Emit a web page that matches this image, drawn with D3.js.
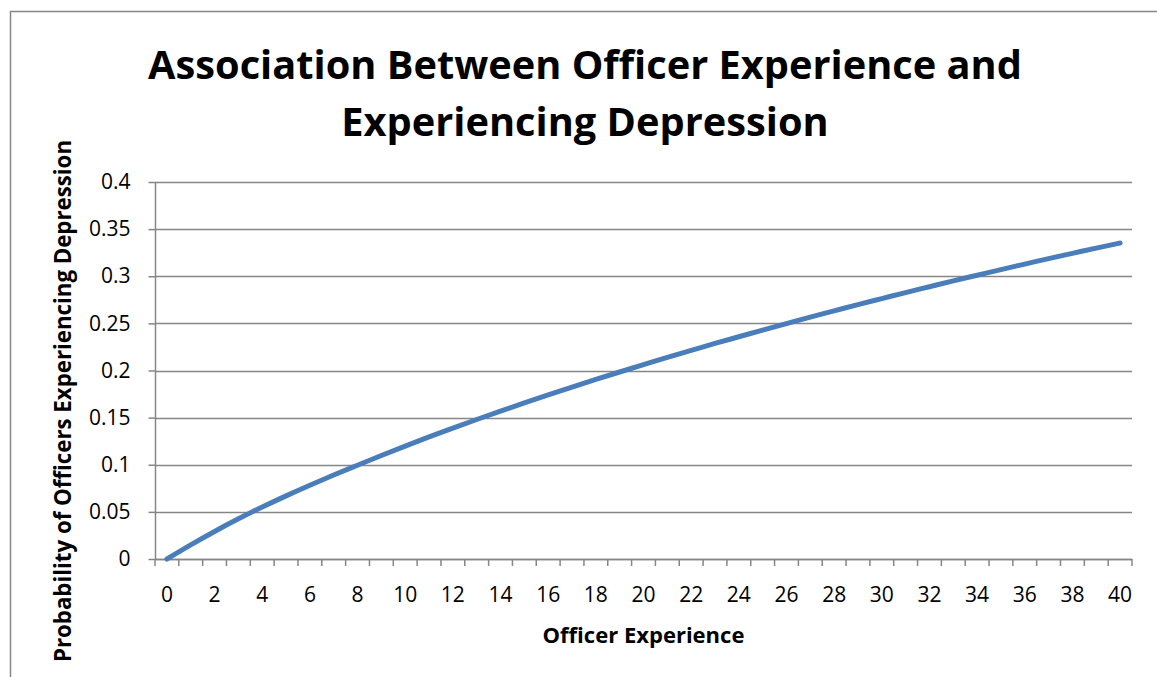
<!DOCTYPE html>
<html>
<head>
<meta charset="utf-8">
<script src="https://cdn.jsdelivr.net/npm/d3@7"></script>
<style>
  html, body { margin: 0; padding: 0; background: #fff; }
  svg { display: block; }
  text { font-family: "Open Sans", "Noto Sans", sans-serif; fill: #000; }
</style>
</head>
<body>
<svg id="chart" width="1157" height="677"></svg>
<script>
// ---- data ----
const titleLines = ["Association Between Officer Experience and", "Experiencing Depression"];
const xTitle = "Officer Experience";
const yTitle = "Probability of Officers Experiencing Depression";
const experience = d3.range(0, 41); // categories 0..40
const probability = [
  0.0000, 0.0150, 0.0292, 0.0426, 0.0551, 0.0670, 0.0783, 0.0891, 0.0995, 0.1098,
  0.1198, 0.1295, 0.1389, 0.1480, 0.1569, 0.1656, 0.1741, 0.1824, 0.1905, 0.1984,
  0.2062, 0.2139, 0.2213, 0.2287, 0.2358, 0.2429, 0.2498, 0.2567, 0.2633, 0.2699,
  0.2763, 0.2827, 0.2889, 0.2951, 0.3011, 0.3071, 0.3129, 0.3187, 0.3243, 0.3299,
  0.3353
];
const yTicks = [0, 0.05, 0.1, 0.15, 0.2, 0.25, 0.3, 0.35, 0.4];
const yTickLabels = ["0", "0.05", "0.1", "0.15", "0.2", "0.25", "0.3", "0.35", "0.4"];
const xTickLabels = ["0","2","4","6","8","10","12","14","16","18","20","22","24","26","28","30","32","34","36","38","40"];

// ---- layout ----
const svg = d3.select("#chart");
const plot = { left: 155, right: 1132, top: 182, bottom: 559 };
const gridColor = "#868686";
const lineColor = "#4a7ebb";

function fitWidth(sel, target) {
  const node = sel.node();
  const fs = parseFloat(sel.attr("font-size"));
  const w = node.getComputedTextLength();
  if (w > 0) sel.attr("font-size", (fs * target / w).toFixed(2));
}

// outer border (chart area, cropped on right/bottom)
svg.append("rect")
  .attr("x", 10.5).attr("y", 11.5)
  .attr("width", 1300).attr("height", 800)
  .attr("fill", "#fff")
  .attr("stroke", gridColor).attr("stroke-width", 1.5);

const x = d3.scaleBand().domain(experience).range([plot.left, plot.right]).padding(0);
const y = d3.scaleLinear().domain([0, 0.4]).range([plot.bottom, plot.top]);

// gridlines + y axis
const yAxis = d3.axisLeft(y)
  .tickValues(yTicks)
  .tickSize(7)
  .tickPadding(18)
  .tickFormat((d, i) => yTickLabels[i]);

const gy = svg.append("g").attr("transform", `translate(${plot.left},0)`);
gy.selectAll("line.grid")
  .data(yTicks)
  .join("line")
  .attr("class", "grid")
  .attr("x1", 0).attr("x2", plot.right - plot.left)
  .attr("y1", d => Math.round(y(d)) + 0.5).attr("y2", d => Math.round(y(d)) + 0.5)
  .attr("stroke", gridColor).attr("stroke-width", 1.5);
const yAx = svg.append("g").attr("transform", `translate(${plot.left + 0.5},0)`).call(yAxis);
yAx.select(".domain").attr("stroke", gridColor).attr("stroke-width", 1.5)
  .attr("d", `M0,${plot.top}V${plot.bottom}`);
yAx.selectAll(".tick line").attr("stroke", gridColor).attr("stroke-width", 1.5);
yAx.selectAll(".tick text")
  .attr("font-size", 21)
  .attr("font-family", "Open Sans")
  .attr("fill", "#000");

// x axis: line, boundary tick marks, labels at even categories
const gx = svg.append("g");
gx.append("line")
  .attr("x1", plot.left).attr("x2", plot.right)
  .attr("y1", y(0) + 0.5).attr("y2", y(0) + 0.5)
  .attr("stroke", gridColor).attr("stroke-width", 1.5);
const boundaries = d3.range(0, experience.length + 1).map(i => x.range()[0] + i * x.step());
gx.selectAll("line.tick")
  .data(boundaries)
  .join("line")
  .attr("class", "tick")
  .attr("x1", d => d).attr("x2", d => d)
  .attr("y1", y(0)).attr("y2", y(0) + 7)
  .attr("stroke", gridColor).attr("stroke-width", 1.5);
gx.selectAll("text")
  .data(xTickLabels)
  .join("text")
  .attr("x", d => x(+d) + x.bandwidth() / 2)
  .attr("y", 594)
  .attr("text-anchor", "middle")
  .attr("dominant-baseline", "central")
  .attr("font-size", 21)
  .text(d => d);

// series line
const line = d3.line()
  .x((d, i) => x(experience[i]) + x.bandwidth() / 2)
  .y(d => y(d))
  .curve(d3.curveMonotoneX);
svg.append("path")
  .datum(probability)
  .attr("d", line)
  .attr("fill", "none")
  .attr("stroke", lineColor)
  .attr("stroke-width", 5)
  .attr("stroke-linecap", "round")
  .attr("stroke-linejoin", "round");

// title
const t1 = svg.append("text")
  .attr("x", 585).attr("y", 79)
  .attr("text-anchor", "middle")
  .attr("font-weight", "bold")
  .attr("font-size", 44)
  .text(titleLines[0]);
fitWidth(t1, 874);
const t2 = svg.append("text")
  .attr("x", 585).attr("y", 136)
  .attr("text-anchor", "middle")
  .attr("font-weight", "bold")
  .attr("font-size", t1.attr("font-size"))
  .text(titleLines[1]);

// axis titles
const xt = svg.append("text")
  .attr("x", 643.5).attr("y", 643)
  .attr("text-anchor", "middle")
  .attr("font-weight", "bold")
  .attr("font-size", 21)
  .text(xTitle);
fitWidth(xt, 202);

const yt = svg.append("text")
  .attr("transform", "translate(71,401) rotate(-90)")
  .attr("text-anchor", "middle")
  .attr("font-weight", "bold")
  .attr("font-size", 21)
  .text(yTitle);
fitWidth(yt, 522);
</script>
</body>
</html>
